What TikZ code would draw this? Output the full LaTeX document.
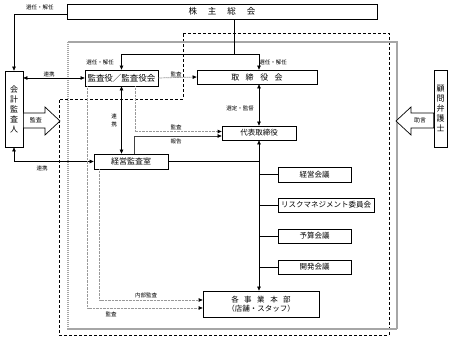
\documentclass[tikz,border=0pt]{standalone}
\usepackage{fontspec}
\setmainfont{Noto Sans CJK JP}
\usetikzlibrary{arrows.meta,calc}
\begin{document}
\begin{tikzpicture}[x=1pt,y=-1pt,
  box/.style={draw,line width=0.7pt,inner sep=0pt,fill=white,font=\fontsize{7.5}{9}\selectfont},
  lab/.style={font=\fontsize{5.5}{6}\selectfont,inner sep=0pt},
  arr/.style={-{Triangle[length=4pt,width=3.5pt,color=black]}},
  darr/.style={{Triangle[length=4pt,width=3.5pt,color=black]}-{Triangle[length=4pt,width=3.5pt,color=black]}},
  ln/.style={line width=0.6pt},
  gl/.style={draw=gray!80,line width=0.7pt,dash pattern=on 1pt off 0.4pt}]
\useasboundingbox (0,0) rectangle (456,339);
% frames
\draw[line width=0.8pt,dash pattern=on 3pt off 2pt] (183,33) -- (389,33) -- (389,335) -- (59,335) -- (59,99) -- (183,99) -- cycle;
\draw[draw=gray!70,line width=1.1pt,dash pattern=on 1.5pt off 0.5pt] (68,42) rectangle (397,329);
% boxes
\node[box,minimum width=310pt,minimum height=15pt,font=\fontsize{8.5}{10}\selectfont] (kabu) at (222,11.5) {株\hspace{11pt}主\hspace{11pt}総\hspace{11pt}会};
\node[box,minimum width=18pt,minimum height=76pt,align=center,font=\fontsize{8}{10}\selectfont] (kaikei) at (14,109) {会\\計\\監\\査\\人};
\node[box,minimum width=13pt,minimum height=77pt,align=center,font=\fontsize{8}{10}\selectfont] (komon) at (440.5,108.5) {顧\\問\\弁\\護\\士};
\node[box,minimum width=73pt,minimum height=16pt,font=\fontsize{8.5}{10}\selectfont] (kansa) at (121.5,78) {監査役／監査役会};
\node[box,minimum width=120pt,minimum height=14pt,font=\fontsize{8}{10}\selectfont] (tori) at (257,77) {取\hspace{6.5pt}締\hspace{6.5pt}役\hspace{6.5pt}会};
\node[box,minimum width=74pt,minimum height=15pt,font=\fontsize{8}{10}\selectfont] (keiei) at (131,161.5) {経営監査室};
\node[box,minimum width=74pt,minimum height=14pt] (daihyo) at (259,133) {代表取締役};
\node[box,minimum width=73pt,minimum height=15pt] (k1) at (314.5,174.5) {経営会議};
\node[box,minimum width=96pt,minimum height=14pt] (k2) at (326,205) {リスクマネジメント委員会};
\node[box,minimum width=73pt,minimum height=14pt] (k3) at (314.5,236) {予算会議};
\node[box,minimum width=73pt,minimum height=14pt] (k4) at (314.5,267) {開発会議};
\node[box,minimum width=116pt,minimum height=26pt,align=center,font=\fontsize{7.5}{9}\selectfont] (jigyo) at (261,304) {各\hspace{5.5pt}事\hspace{5.5pt}業\hspace{5.5pt}本\hspace{5.5pt}部\\（店舗・スタッフ）};
% block arrows
\draw[line width=0.7pt,fill=white] (kaikei.east |- 0,113) -- (45,113) -- (45,107) -- (60,121) -- (45,135) -- (45,128) -- (kaikei.east |- 0,128) -- cycle;
\node[lab,font=\fontsize{6}{7}\selectfont] (lkansa) at (36,120.5) {監査};
\draw[line width=0.7pt,fill=white] (komon.west |- 0,113) -- (411,113) -- (411,107) -- (396,121) -- (411,135) -- (411,128) -- (komon.west |- 0,128) -- cycle;
\node[lab,font=\fontsize{6}{7}\selectfont] (ljogen) at (420,120.5) {助言};
% shareholders
\draw[ln,arr] ($(kabu.west)+(0,2.5)$) -| (kaikei.north);
\node[lab] (l1) at (40,7.5) {選任・解任};
\coordinate (j1) at (234,54);
\draw[ln] (kabu.south -| j1) -- (j1);
\draw[ln,arr] (j1) -| (kansa.north);
\draw[ln,arr] (j1) -| (tori.north -| daihyo.north);
\node[lab] (l2) at (100,62.5) {選任・解任};
\node[lab] (l3) at (273,62.5) {選任・解任};
% kansa -> tori
\draw[gl,arr] (kansa.east) -- (tori.west);
\node[lab] (l4) at (176,74.5) {監査};
% renkei
\draw[ln,darr] (kaikei.east |- kansa.west) -- (kansa.west);
\node[lab] (l5) at (49,74) {連携};
\draw[ln,darr] (kansa.south) -- (kansa.south |- keiei.north);
\node[lab,align=center,font=\fontsize{5.5}{8}\selectfont] (l6) at (114,120) {連\\携};
\draw[ln,darr] (kaikei.south) |- (keiei.west);
\node[lab] (l7) at (42,168.5) {連携};
% daihyo
\draw[ln,darr] (tori.south -| daihyo.north) -- (daihyo.north);
\node[lab] (l8) at (240,108) {選定・監督};
\draw[ln,darr] (daihyo.south) -- (jigyo.north -| daihyo.south);
\draw[ln] (daihyo.south |- k1.west) -- (k1.west);
\draw[ln] (daihyo.south |- k2.west) -- (k2.west);
\draw[ln] (daihyo.south |- k3.west) -- (k3.west);
\draw[ln] (daihyo.south |- k4.west) -- (k4.west);
\draw[ln] (keiei.east) -- (keiei.east -| daihyo.south);
% audit and report
\draw[gl,arr] ($(kansa.south)+(13.5,0)$) |- ($(daihyo.west)+(0,-1.5)$);
\node[lab] (l9) at (176,127) {監査};
\draw[ln,draw=black!75,arr] ($(keiei.north)+(3,0)$) |- ($(daihyo.west)+(0,3)$);
\node[lab] (l10) at (176,141.5) {報告};
\draw[gl,arr] ($(kansa.south west)+(3,0)$) |- ($(jigyo.west)+(0,4)$);
\node[lab] (l11) at (111,314) {監査};
\draw[gl,arr] ($(keiei.south west)+(6,0)$) |- ($(jigyo.west)+(0,-4)$);
\node[lab] (l12) at (146,295) {内部監査};
\end{tikzpicture}
\end{document}
